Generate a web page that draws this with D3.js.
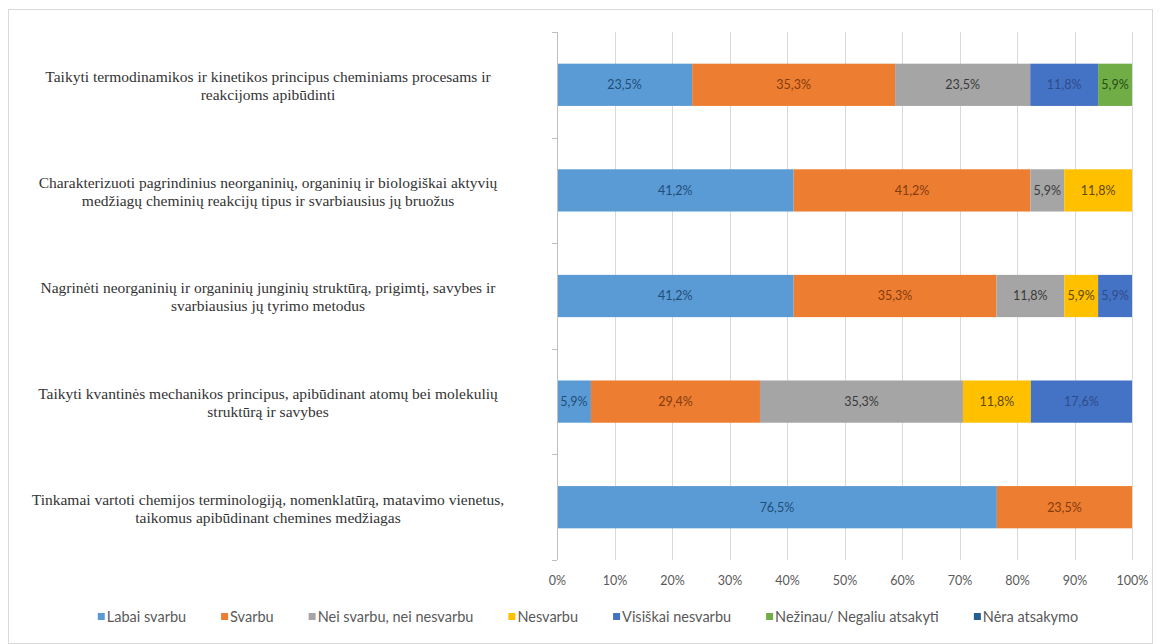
<!DOCTYPE html>
<html>
<head>
<meta charset="utf-8">
<script src="https://cdn.jsdelivr.net/npm/d3@7"></script>
<style>
  html, body { margin: 0; padding: 0; background: #ffffff; }
  svg { display: block; }
</style>
</head>
<body>
<svg id="chart" width="1160" height="644"></svg>
<script>
// Study outcomes (rows, top to bottom); "\n" marks the wrap point of each label
const categories = [
  "Taikyti termodinamikos ir kinetikos principus cheminiams procesams ir\nreakcijoms apibūdinti",
  "Charakterizuoti pagrindinius neorganinių, organinių ir biologiškai aktyvių\nmedžiagų cheminių reakcijų tipus ir svarbiausius jų bruožus",
  "Nagrinėti neorganinių ir organinių junginių struktūrą, prigimtį, savybes ir\nsvarbiausius jų tyrimo metodus",
  "Taikyti kvantinės mechanikos principus, apibūdinant atomų bei molekulių\nstruktūrą ir savybes",
  "Tinkamai vartoti chemijos terminologiją, nomenklatūrą, matavimo vienetus,\ntaikomus apibūdinant chemines medžiagas"
];

// Answer options (stack order, left to right)
const seriesNames = [
  "Labai svarbu",
  "Svarbu",
  "Nei svarbu, nei nesvarbu",
  "Nesvarbu",
  "Visiškai nesvarbu",
  "Nežinau/ Negaliu atsakyti",
  "Nėra atsakymo"
];

// Share of respondents (%) per answer option, one value per category
const labaiSvarbu     = [23.5, 41.2, 41.2,  5.9, 76.5];
const svarbu          = [35.3, 41.2, 35.3, 29.4, 23.5];
const neiSvarbu       = [23.5,  5.9, 11.8, 35.3,  0];
const nesvarbu        = [ 0,   11.8,  5.9, 11.8,  0];
const visiskaiNesv    = [11.8,  0,    5.9, 17.6,  0];
const nezinau         = [ 5.9,  0,    0,    0,    0];
const neraAtsakymo    = [ 0,    0,    0,    0,    0];

const xTicks = [0, 0.1, 0.2, 0.3, 0.4, 0.5, 0.6, 0.7, 0.8, 0.9, 1];

const seriesValues = [labaiSvarbu, svarbu, neiSvarbu, nesvarbu, visiskaiNesv, nezinau, neraAtsakymo];
const colors = ["#5B9BD5", "#ED7D31", "#A5A5A5", "#FFC000", "#4472C4", "#70AD47", "#255E91"];
const labelColors = ["#1F4E79", "#843C0C", "#3A3A3A", "#5F4800", "#2E4D8A", "#274E13", "#0F2A45"];

const rows = categories.map((c, i) => {
  const r = { cat: c };
  seriesNames.forEach((s, j) => { r[s] = seriesValues[j][i]; });
  return r;
});

const svg = d3.select("#chart");

// chart frame
svg.append("rect")
  .attr("x", 8.5).attr("y", 9.5)
  .attr("width", 1144).attr("height", 634)
  .attr("fill", "#ffffff").attr("stroke", "#d9d9d9").attr("stroke-width", 1);

const plot = { left: 557, right: 1132, top: 32, bottom: 560 };

const x = d3.scaleLinear().domain([0, 1]).range([plot.left, plot.right]);
const y = d3.scaleBand().domain(categories).range([plot.top, plot.bottom]).paddingInner(0.6).paddingOuter(0.3);
const yBand = d3.scaleBand().domain(categories).range([plot.top, plot.bottom]);

// vertical gridlines
svg.append("g")
  .selectAll("line")
  .data(xTicks.slice(1))
  .join("line")
  .attr("x1", d => Math.round(x(d)) + 0.5).attr("x2", d => Math.round(x(d)) + 0.5)
  .attr("y1", plot.top).attr("y2", plot.bottom)
  .attr("stroke", "#d9d9d9").attr("stroke-width", 1);

// stacked bars, normalised to 100%
const stack = d3.stack().keys(seriesNames).offset(d3.stackOffsetExpand);
const layers = stack(rows);

const fmt = v => v.toFixed(1).replace(".", ",") + "%";

const gLayers = svg.append("g")
  .selectAll("g")
  .data(layers)
  .join("g")
  .attr("fill", (d, i) => colors[i]);

gLayers.selectAll("rect")
  .data(d => d.filter(p => p.data[d.key] > 0))
  .join("rect")
  .attr("x", d => x(d[0]))
  .attr("y", d => y(d.data.cat))
  .attr("width", d => x(d[1]) - x(d[0]))
  .attr("height", y.bandwidth());

// value labels inside segments
svg.append("g")
  .selectAll("g")
  .data(layers)
  .join("g")
  .attr("fill", (d, i) => labelColors[i])
  .selectAll("text")
  .data(d => d.filter(p => p.data[d.key] > 0).map(p => ({ p, key: d.key })))
  .join("text")
  .attr("x", d => (x(d.p[0]) + x(d.p[1])) / 2)
  .attr("y", d => y(d.p.data.cat) + y.bandwidth() / 2)
  .attr("dy", "0.35em")
  .attr("text-anchor", "middle")
  .attr("font-family", "Lato, 'Liberation Sans', sans-serif")
  .attr("font-size", 12.5)
  .text(d => fmt(d.p.data[d.key]));

// category axis line with ticks between categories
const yAxisG = svg.append("g");
yAxisG.append("line")
  .attr("x1", plot.left + 0.5).attr("x2", plot.left + 0.5)
  .attr("y1", plot.top).attr("y2", plot.bottom)
  .attr("stroke", "#bfbfbf");
yAxisG.selectAll("line.tick")
  .data([plot.top, ...categories.map(c => yBand(c) + yBand.bandwidth())])
  .join("line")
  .attr("class", "tick")
  .attr("x1", plot.left - 5).attr("x2", plot.left)
  .attr("y1", d => Math.round(d) + 0.5).attr("y2", d => Math.round(d) + 0.5)
  .attr("stroke", "#bfbfbf");

// category labels, wrapped and centred
const catLabels = svg.append("g")
  .selectAll("text")
  .data(categories)
  .join("text")
  .attr("text-anchor", "middle")
  .attr("font-family", "'Liberation Serif', 'Times New Roman', serif")
  .attr("font-size", 15.5)
  .attr("fill", "#333333");
catLabels.each(function(c) {
  const lines = c.split("\n");
  const cy = yBand(c) + yBand.bandwidth() / 2 + 1;
  const lh = 18;
  const t = d3.select(this);
  lines.forEach((ln, k) => {
    t.append("tspan")
      .attr("x", 268)
      .attr("y", cy + (k - (lines.length - 1) / 2) * lh)
      .attr("dy", "0.35em")
      .text(ln);
  });
});

// percentage axis
const xAxis = d3.axisBottom(x).tickValues(xTicks).tickFormat(d3.format(".0%")).tickSize(0).tickPadding(0);
const xg = svg.append("g").attr("transform", `translate(0, ${plot.bottom + 21})`).call(xAxis);
xg.select(".domain").remove();
xg.selectAll("text")
  .attr("font-family", "Lato, 'Liberation Sans', sans-serif")
  .attr("font-size", 12.5)
  .attr("fill", "#595959")
  .attr("dy", "0.35em");

// legend
const legend = svg.append("g");
const items = legend.selectAll("g")
  .data(seriesNames)
  .join("g");
items.append("rect")
  .attr("width", 7).attr("height", 7)
  .attr("y", -4)
  .attr("fill", (d, i) => colors[i]);
items.append("text")
  .attr("x", 9)
  .attr("dy", "0.35em")
  .attr("font-family", "Lato, 'Liberation Sans', sans-serif")
  .attr("font-size", 14.5)
  .attr("fill", "#595959")
  .text(d => d);
let cursor = 0;
const gap = 35;
const offsets = [];
items.each(function() {
  offsets.push(cursor);
  cursor += this.getBBox().width + gap;
});
const totalW = cursor - gap;
const startX = 588 - totalW / 2;
items.attr("transform", (d, i) => `translate(${startX + offsets[i]}, 617)`);
</script>
</body>
</html>
